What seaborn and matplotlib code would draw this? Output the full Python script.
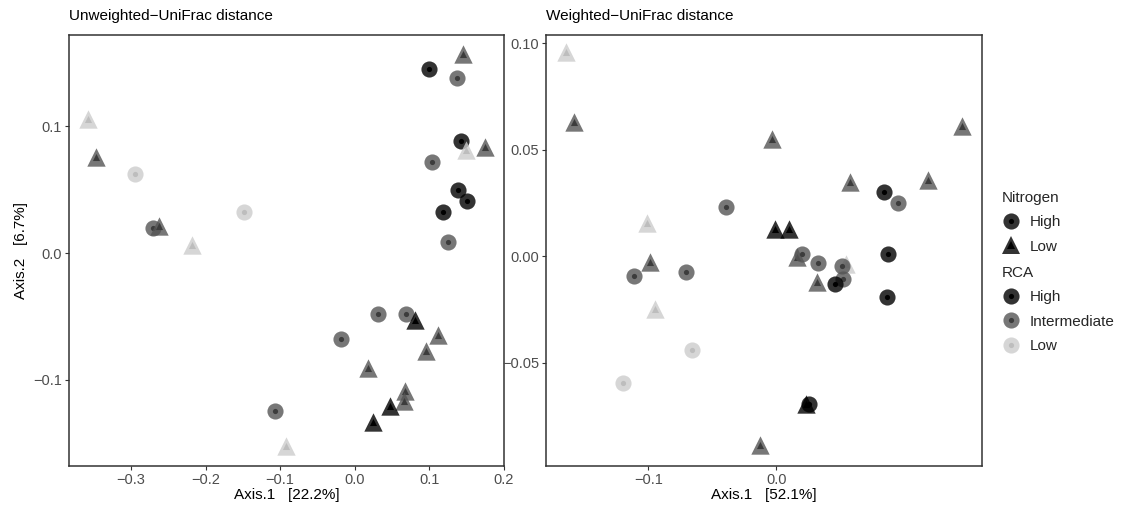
import numpy as np
import pandas as pd
import matplotlib
matplotlib.use("Agg")
import matplotlib.pyplot as plt
from matplotlib.lines import Line2D
import seaborn as sns

# ---------------- data ----------------
uw_x = [-0.358, -0.347, -0.295, -0.270, -0.262, -0.218, -0.148, 0.100, 0.145, 0.137,
        0.143, 0.149, 0.175, 0.104, 0.139, 0.150, 0.118, 0.125, 0.031, 0.069,
        0.081, 0.112, 0.095, -0.018, 0.018, 0.067, 0.066, 0.047, 0.025, -0.107, -0.092]
uw_y = [0.106, 0.076, 0.062, 0.020, 0.021, 0.006, 0.032, 0.145, 0.157, 0.138,
        0.088, 0.081, 0.084, 0.072, 0.050, 0.041, 0.032, 0.009, -0.048, -0.048,
        -0.053, -0.065, -0.077, -0.068, -0.091, -0.109, -0.117, -0.121, -0.133, -0.125, -0.152]
uw_nitrogen = ["Low", "Low", "High", "High", "Low", "Low", "High", "High", "Low", "High",
               "High", "Low", "Low", "High", "High", "High", "High", "High", "High", "High",
               "Low", "Low", "Low", "High", "Low", "Low", "Low", "Low", "Low", "High", "Low"]
uw_rca = ["Low", "Intermediate", "Low", "Intermediate", "Intermediate", "Low", "Low", "High",
          "Intermediate", "Intermediate", "High", "Low", "Intermediate", "Intermediate", "High",
          "High", "High", "Intermediate", "Intermediate", "Intermediate", "High", "Intermediate",
          "Intermediate", "Intermediate", "Intermediate", "Intermediate", "Intermediate", "High",
          "High", "Intermediate", "Low"]

w_x = [-0.164, -0.158, -0.003, 0.145, 0.058, 0.119, 0.084, 0.095, -0.039, -0.101,
       -0.001, 0.010, -0.099, -0.111, -0.0706, -0.0945, -0.066, -0.1195, -0.0125, 0.0234,
       0.0258, 0.0164, 0.0203, 0.0328, 0.0547, 0.0516, 0.0523, 0.032, 0.046, 0.0875, 0.0867]
w_y = [0.0956, 0.063, 0.055, 0.061, 0.0347, 0.036, 0.030, 0.025, 0.023, 0.0155,
       0.013, 0.013, -0.0027, -0.0092, -0.0074, -0.0248, -0.044, -0.0595, -0.0886, -0.069,
       -0.069, -0.0005, 0.0009, -0.0033, -0.0038, -0.0047, -0.0108, -0.0122, -0.0131, 0.0009, -0.0192]
w_nitrogen = ["Low", "Low", "Low", "Low", "Low", "Low", "High", "High", "High", "Low",
              "Low", "Low", "Low", "High", "High", "Low", "High", "High", "Low", "Low",
              "High", "Low", "High", "High", "Low", "High", "High", "Low", "High", "High", "High"]
w_rca = ["Low", "Intermediate", "Intermediate", "Intermediate", "Intermediate", "Intermediate",
         "High", "Intermediate", "Intermediate", "Low", "High", "High", "Intermediate",
         "Intermediate", "Intermediate", "Low", "Low", "Low", "Intermediate", "High", "High",
         "Intermediate", "Intermediate", "Intermediate", "Low", "Intermediate", "Intermediate",
         "Intermediate", "High", "High", "High"]

rca_levels = ["High", "Intermediate", "Low"]
nitrogen_levels = ["High", "Low"]

# ---------------- style ----------------
sns.set_theme(style="white")
plt.rcParams["font.family"] = ["Liberation Sans", "DejaVu Sans"]

outer_pal = {"High": "#000000", "Intermediate": "#555555", "Low": "#cccccc"}
inner_pal = {"High": "#000000", "Intermediate": "#3c3c3c", "Low": "#bdbdbd"}
marker_map = {"High": "o", "Low": "^"}
outer_size = {"High": 135, "Low": 175}
inner_size = {"High": 14, "Low": 26}
ALPHA = 0.8

fig = plt.figure(figsize=(11.26, 5.08), dpi=100)
axL = fig.add_axes([69 / 1126, 42 / 508, 435 / 1126, 431 / 508])
axR = fig.add_axes([546 / 1126, 42 / 508, 436 / 1126, 431 / 508])


def panel(ax, x, y, nit, rca, title, xlabel, ylabel, xlim, ylim, xticks, yticks, yfmt):
    df = pd.DataFrame({"x": x, "y": y, "Nitrogen": nit, "RCA": rca})
    for i, row in df.iterrows():
        sub = df.iloc[[i]]
        n = row["Nitrogen"]
        sns.scatterplot(data=sub, x="x", y="y", hue="RCA", palette=outer_pal,
                        hue_order=rca_levels, marker=marker_map[n], s=outer_size[n],
                        alpha=ALPHA, linewidth=0, legend=False, ax=ax, zorder=3)
        sns.scatterplot(data=sub, x="x", y="y", hue="RCA", palette=inner_pal,
                        hue_order=rca_levels, marker=marker_map[n], s=inner_size[n],
                        alpha=1, linewidth=0, legend=False, ax=ax, zorder=3)
    ax.set_xlim(*xlim)
    ax.set_ylim(*ylim)
    ax.set_xticks(xticks)
    ax.set_yticks(yticks)
    ax.set_xticklabels([f"{t:.1f}".replace("-", "\u2212") for t in xticks])
    ax.set_yticklabels([(yfmt.format(t)).replace("-", "\u2212") for t in yticks])
    ax.set_xlabel(xlabel, fontsize=11, color="black", labelpad=1)
    ax.set_ylabel(ylabel, fontsize=11, color="black", labelpad=4)
    ax.set_title(title, loc="left", fontsize=11, color="black", pad=11)
    ax.tick_params(axis="both", which="both", direction="out", length=3, width=0.8,
                   color="#333333", labelcolor="#4d4d4d", labelsize=10.5, pad=2,
                   bottom=True, left=True)
    for sp in ax.spines.values():
        sp.set_color("#333333")
        sp.set_linewidth(1.1)
        sp.set_visible(True)
    ax.grid(False)


panel(axL, uw_x, uw_y, uw_nitrogen, uw_rca, "Unweighted\u2212UniFrac distance",
      "Axis.1   [22.2%]", "Axis.2   [6.7%]", (-0.383, 0.2), (-0.168, 0.172),
      [-0.3, -0.2, -0.1, 0.0, 0.1, 0.2], [-0.1, 0.0, 0.1], "{:.1f}")
panel(axR, w_x, w_y, w_nitrogen, w_rca, "Weighted\u2212UniFrac distance",
      "Axis.1   [52.1%]", "", (-0.18, 0.161), (-0.0983, 0.1038),
      [-0.1, 0.0], [-0.05, 0.0, 0.05, 0.10], "{:.2f}")

# ---------------- legends ----------------
def combo(marker, n_key, color_outer, color_inner):
    outer = Line2D([], [], linestyle="none", marker=marker, markersize=np.sqrt(outer_size[n_key]),
                   markerfacecolor=color_outer, markeredgewidth=0, alpha=ALPHA)
    inner = Line2D([], [], linestyle="none", marker=marker, markersize=np.sqrt(inner_size[n_key]),
                   markerfacecolor=color_inner, markeredgewidth=0)
    return (outer, inner)

nit_handles = [combo(marker_map[n], n, outer_pal["High"], inner_pal["High"]) for n in nitrogen_levels]
rca_handles = [combo("o", "High", outer_pal[r], inner_pal[r]) for r in rca_levels]

leg_kw = dict(frameon=False, fontsize=11, title_fontsize=11, loc="upper left",
              alignment="left", handlelength=1.2, handletextpad=0.6, labelspacing=0.68,
              borderaxespad=0, borderpad=0)
leg1 = fig.legend(nit_handles, nitrogen_levels, title="Nitrogen",
                  bbox_to_anchor=(1002 / 1126, 1 - 191 / 508), **leg_kw)
leg2 = fig.legend(rca_handles, rca_levels, title="RCA",
                  bbox_to_anchor=(1002 / 1126, 1 - 266 / 508), **leg_kw)

fig.savefig("out.png", dpi=100)
